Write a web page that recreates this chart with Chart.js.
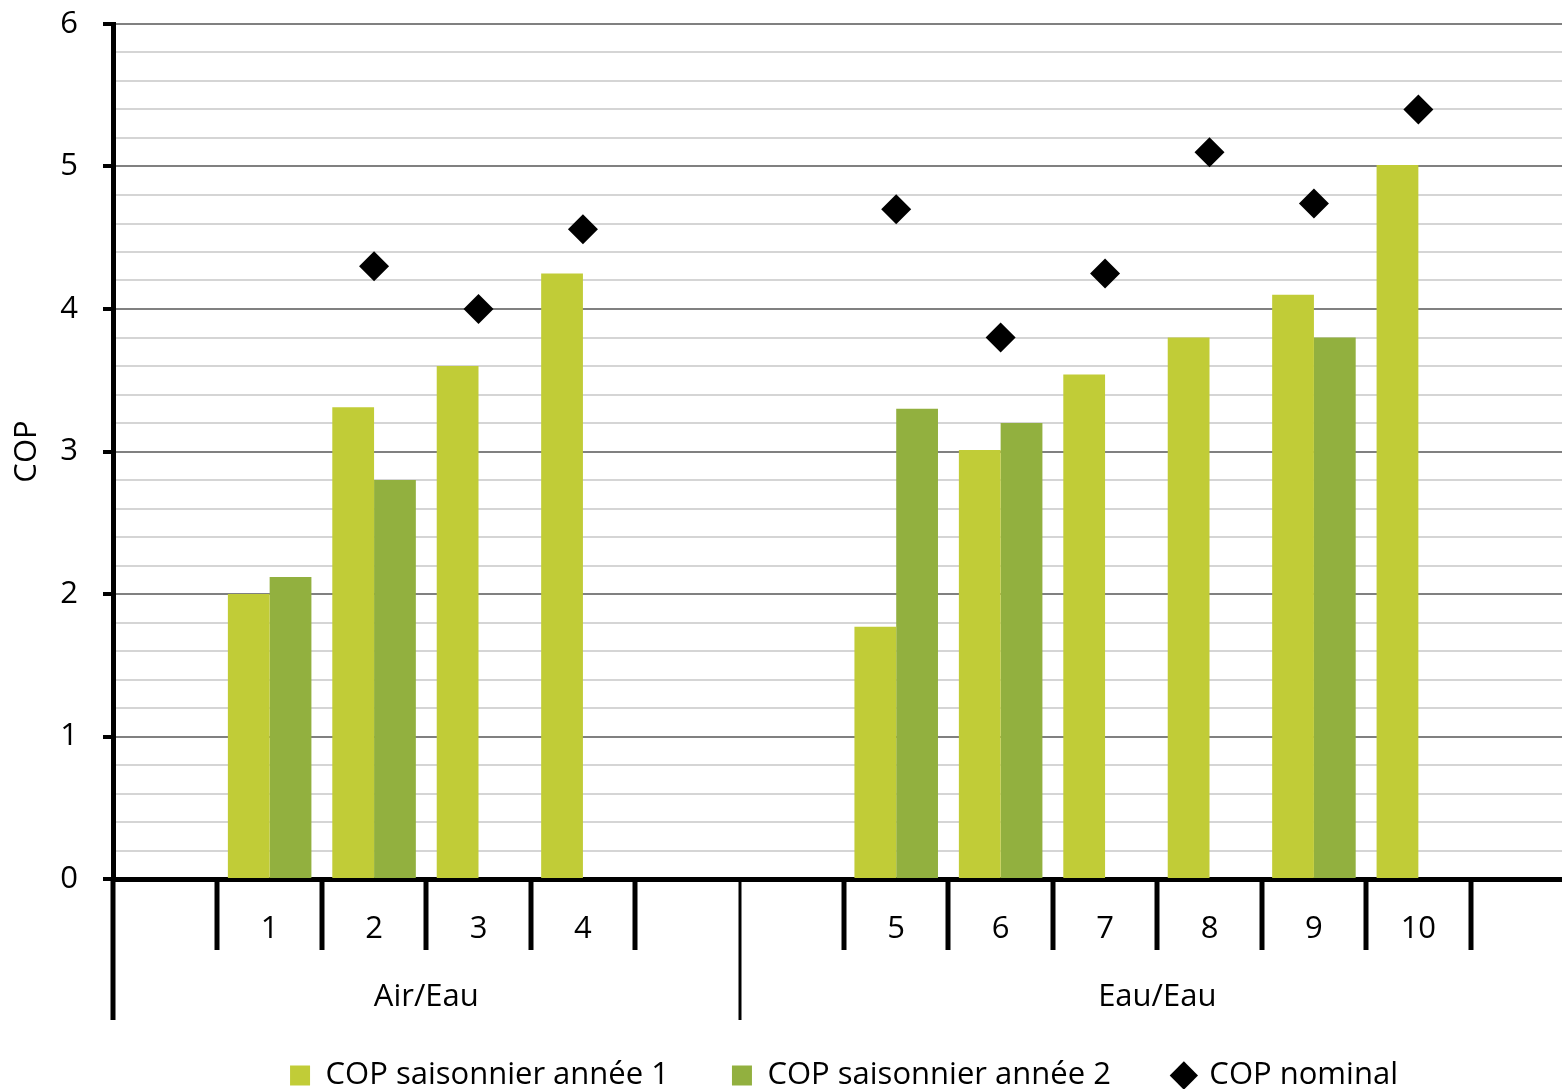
<!DOCTYPE html>
<html lang="fr">
<head>
    <meta charset="UTF-8">
    <title>COP saisonnier et nominal</title>
    <script src="https://cdn.jsdelivr.net/npm/chart.js"></script>
    <style>
        html, body {
            margin: 0;
            padding: 0;
            overflow: hidden;
            background: #fff;
        }

        #copChart {
            display: block;
        }
    </style>
</head>
<body>
    <canvas id="copChart" width="1576" height="1101"></canvas>
    <script>
        // categories along the x axis (empty slots pad the two groups)
        const categories = ['', '1', '2', '3', '4', '', '', '5', '6', '7', '8', '9', '10', ''];
        const groupLabels = ['Air/Eau', 'Eau/Eau'];
        const groupSizes = [6, 8];

        const copAnnee1 = [null, 2.0, 3.31, 3.6, 4.25, null, null, 1.77, 3.01, 3.54, 3.8, 4.1, 5.01, null];
        const copAnnee2 = [null, 2.12, 2.8, null, null, null, null, 3.3, 3.2, null, null, 3.8, null, null];
        const copNominal = [null, null, 4.3, 4.0, 4.56, null, null, 4.7, 3.8, 4.25, 5.1, 4.74, 5.4, null];

        const yTicks = [0, 1, 2, 3, 4, 5, 6];

        const fontFamily = '"Open Sans", sans-serif';
        const fontSize = 31;

        const isMajor = v => Math.abs(v - Math.round(v)) < 1e-6;

        Chart.defaults.font.family = fontFamily;
        Chart.defaults.font.size = fontSize;
        Chart.defaults.color = '#000';

        // two-level category axis: separators, numbers and group names
        const groupedAxis = {
            id: 'groupedAxis',
            afterDraw(chart) {
                const { ctx, chartArea, scales: { x } } = chart;
                const slot = (x.right - x.left) / categories.length;
                const base = chartArea.bottom;

                const groupEdges = [];
                let acc = 0;
                groupSizes.forEach(n => { acc += n; groupEdges.push(acc); });

                const line = (x1, y1, x2, y2) => {
                    ctx.beginPath();
                    ctx.moveTo(x1, y1);
                    ctx.lineTo(x2, y2);
                    ctx.stroke();
                };

                ctx.save();
                ctx.strokeStyle = '#000';

                ctx.lineWidth = 5;
                for (let i = 1; i < categories.length; i++) {
                    if (groupEdges.includes(i)) continue;
                    const px = Math.round(x.left + i * slot);
                    line(px, base, px, base + 71);
                }

                // left axis runs down through both label rows
                line(x.left, base, x.left, base + 141);

                ctx.lineWidth = 3;
                groupEdges.slice(0, -1).forEach(i => {
                    const px = Math.round(x.left + i * slot);
                    line(px, base, px, base + 141);
                });

                ctx.fillStyle = '#000';
                ctx.font = `${fontSize}px ${fontFamily}`;
                ctx.textAlign = 'center';
                ctx.textBaseline = 'middle';
                categories.forEach((c, i) => {
                    if (c) ctx.fillText(c, x.getPixelForValue(i), base + 50);
                });

                let start = 0;
                groupLabels.forEach((g, k) => {
                    const end = start + groupSizes[k];
                    const cx = x.left + (start + end) / 2 * slot;
                    ctx.fillText(g, cx, base + 118);
                    start = end;
                });
                ctx.restore();
            }
        };

        new Chart(document.getElementById('copChart'), {
            data: {
                labels: categories,
                datasets: [
                    {
                        type: 'bar',
                        label: 'COP saisonnier année 1',
                        data: copAnnee1,
                        backgroundColor: '#c1cc37',
                        categoryPercentage: 0.8,
                        barPercentage: 1.0,
                        order: 2
                    },
                    {
                        type: 'bar',
                        label: 'COP saisonnier année 2',
                        data: copAnnee2,
                        backgroundColor: '#92b03f',
                        categoryPercentage: 0.8,
                        barPercentage: 1.0,
                        order: 2
                    },
                    {
                        type: 'line',
                        label: 'COP nominal',
                        data: copNominal,
                        showLine: false,
                        pointStyle: 'rectRot',
                        pointRadius: 15,
                        pointHoverRadius: 15,
                        pointBorderWidth: 0,
                        backgroundColor: '#000',
                        borderColor: '#000',
                        order: 1
                    }
                ]
            },
            options: {
                responsive: false,
                animation: false,
                layout: {
                    autoPadding: false,
                    padding: { left: 0, top: 24, right: 1, bottom: 0 }
                },
                plugins: {
                    tooltip: { enabled: false },
                    legend: {
                        position: 'bottom',
                        fullSize: false,
                        labels: {
                            usePointStyle: true,
                            boxWidth: 20,
                            boxHeight: 20,
                            padding: 63,
                            color: '#000',
                            font: { size: fontSize },
                            generateLabels(chart) {
                                return chart.data.datasets.map((ds, i) => ({
                                    text: ds.label,
                                    fillStyle: ds.backgroundColor,
                                    strokeStyle: ds.backgroundColor,
                                    lineWidth: 0,
                                    pointStyle: ds.type === 'line' ? 'rectRot' : 'rect',
                                    datasetIndex: i,
                                    hidden: false
                                }));
                            }
                        }
                    }
                },
                scales: {
                    x: {
                        offset: true,
                        grid: { display: false },
                        border: { display: true, color: '#000', width: 5 },
                        ticks: { display: false },
                        afterFit(scale) {
                            scale.height = 118;
                        }
                    },
                    y: {
                        min: yTicks[0],
                        max: yTicks[yTicks.length - 1],
                        border: { display: true, color: '#000', width: 5 },
                        grid: {
                            color: ctx => ctx.tick.value === 0 ? 'rgba(0,0,0,0)'
                                : isMajor(ctx.tick.value) ? '#808080' : '#d5d5d5',
                            lineWidth: 2,
                            tickLength: 10,
                            tickWidth: 4,
                            tickColor: ctx => isMajor(ctx.tick.value) ? '#000' : 'rgba(0,0,0,0)'
                        },
                        ticks: {
                            stepSize: 0.2,
                            autoSkip: false,
                            padding: 25,
                            color: '#000',
                            callback: v => isMajor(v) ? Math.round(v) : ''
                        },
                        title: {
                            display: true,
                            text: 'COP',
                            color: '#000',
                            font: { size: fontSize },
                            padding: { top: 9, bottom: 0 }
                        },
                        afterFit(scale) {
                            // fixed axis band; plot top comes from layout padding only
                            scale.width = 113;
                            scale.paddingTop = 0;
                            scale.paddingBottom = 0;
                        }
                    }
                }
            },
            plugins: [groupedAxis]
        });
    </script>
</body>
</html>
